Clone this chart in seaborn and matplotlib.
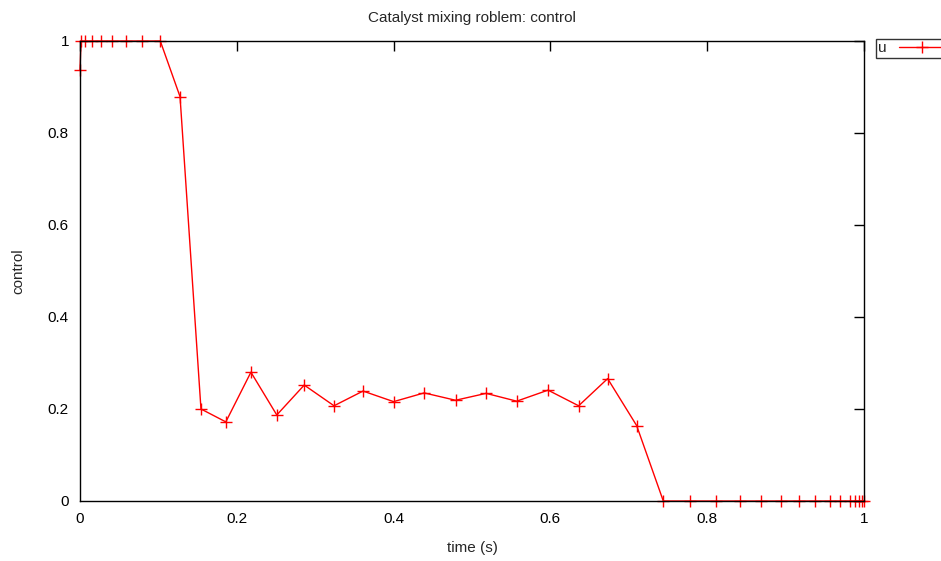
import matplotlib
matplotlib.use("Agg")
import matplotlib.pyplot as plt
import matplotlib.ticker as mticker
import seaborn as sns
import pandas as pd

# 控制量 u 随时间的变化
time_s = [0.0, 0.0013, 0.0064, 0.0153, 0.0268, 0.0412, 0.059, 0.0795, 0.1024,
          0.1276, 0.1543, 0.186, 0.218, 0.251, 0.286, 0.324, 0.361, 0.400,
          0.439, 0.479, 0.518, 0.557, 0.597, 0.636, 0.673, 0.710, 0.744,
          0.778, 0.811, 0.842, 0.869, 0.894, 0.917, 0.938, 0.956, 0.970,
          0.982, 0.989, 0.994, 0.997, 1.0]
u_values = [0.937, 1.0, 1.0, 1.0, 1.0, 1.0, 1.0, 1.0, 1.0,
            0.879, 0.200, 0.172, 0.280, 0.187, 0.252, 0.207, 0.239, 0.216,
            0.235, 0.219, 0.234, 0.217, 0.241, 0.207, 0.266, 0.164, 0.0,
            0.0, 0.0, 0.0, 0.0, 0.0, 0.0, 0.0, 0.0, 0.0,
            0.0, 0.0, 0.0, 0.0, 0.0]

df = pd.DataFrame({"time": time_s, "u": u_values})

sns.set_theme(style="white")
plt.rcParams["font.family"] = ["Liberation Sans", "DejaVu Sans"]

fig = plt.figure(figsize=(9.41, 5.61), dpi=100)
ax = fig.add_axes([80 / 941, 60 / 561, 784 / 941, 460 / 561])

sns.lineplot(data=df, x="time", y="u", ax=ax, color="#ff0000", lw=1,
             marker="+", markersize=8, markeredgewidth=1,
             markeredgecolor="#ff0000", estimator=None, sort=False,
             label="u", clip_on=False)

ax.set_xlim(0, 1)
ax.set_ylim(0, 1)
ax.xaxis.set_major_locator(mticker.MultipleLocator(0.2))
ax.yaxis.set_major_locator(mticker.MultipleLocator(0.2))
ax.xaxis.set_major_formatter(mticker.FormatStrFormatter("%g"))
ax.yaxis.set_major_formatter(mticker.FormatStrFormatter("%g"))
ax.tick_params(direction="in", top=True, right=True, length=7, width=1,
               labelsize=11, colors="black", pad=8)
for sp in ax.spines.values():
    sp.set_color("black")
    sp.set_linewidth(1)

ax.set_xlabel("time (s)", fontsize=11, labelpad=11)
ax.set_ylabel("control", fontsize=11, labelpad=16)
ax.set_title("Catalyst mixing roblem: control", fontsize=11, pad=14)

leg = ax.legend(loc="upper left", bbox_to_anchor=(876 / 941, 1 - 39 / 561),
                bbox_transform=fig.transFigure, fontsize=11, frameon=True,
                fancybox=False, borderpad=0.15, handlelength=3.0,
                handletextpad=0.8, borderaxespad=0, markerfirst=False)
leg.get_frame().set_edgecolor("black")
leg.get_frame().set_linewidth(1)

fig.savefig("out.png", dpi=100)
